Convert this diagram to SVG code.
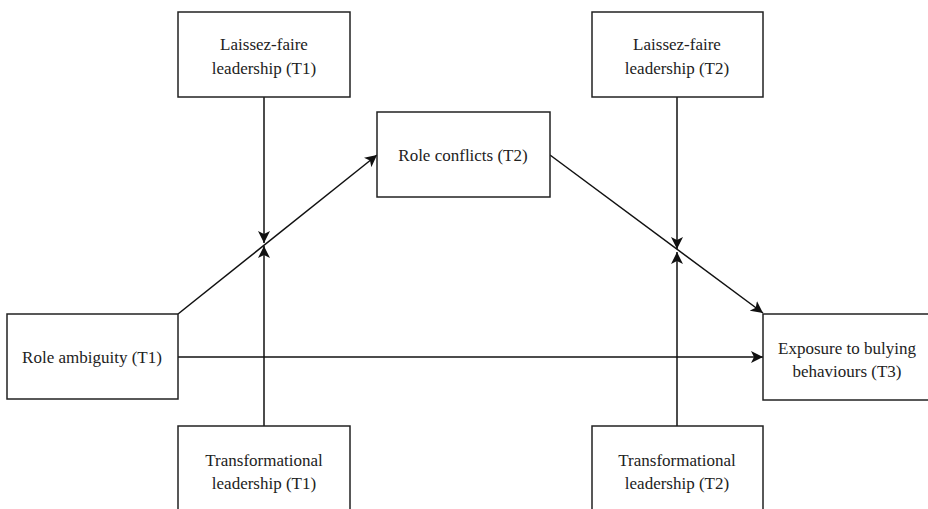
<svg xmlns="http://www.w3.org/2000/svg" width="928" height="509" viewBox="0 0 928 509">
<style>
.box{fill:#fff;stroke:#222;stroke-width:1.5}
.t{font-family:'Liberation Serif','Times New Roman',serif;font-size:17px;fill:#222;text-anchor:middle}
.c{fill:none;stroke:#111;stroke-width:1.5}
</style>
<defs>
<marker id="ah" markerUnits="userSpaceOnUse" markerWidth="14" markerHeight="12" viewBox="0 0 14 12" refX="12" refY="6" orient="auto">
<path d="M0,0 L12,6 L0,12 L3,6 z" fill="#111"/>
</marker>
</defs>
<rect width="928" height="509" fill="#fff"/>
<g id="connectors">
<line class="c" x1="264" y1="97" x2="264" y2="243" marker-end="url(#ah)"/>
<line class="c" x1="264" y1="426" x2="264" y2="246" marker-end="url(#ah)"/>
<line class="c" x1="677" y1="97" x2="677" y2="249" marker-end="url(#ah)"/>
<line class="c" x1="677" y1="426" x2="677" y2="252" marker-end="url(#ah)"/>
<line class="c" x1="178" y1="314" x2="377" y2="155" marker-end="url(#ah)"/>
<line class="c" x1="550" y1="155" x2="763" y2="313" marker-end="url(#ah)"/>
<line class="c" x1="178" y1="357" x2="763" y2="357" marker-end="url(#ah)"/>
</g>
<g id="laissez1">
<rect class="box" x="178" y="12" width="172" height="85"/>
<text class="t" x="264" y="50">Laissez-faire</text>
<text class="t" x="264" y="74">leadership (T1)</text>
</g>
<g id="laissez2">
<rect class="box" x="592" y="12" width="171" height="85"/>
<text class="t" x="677" y="50">Laissez-faire</text>
<text class="t" x="677" y="74">leadership (T2)</text>
</g>
<g id="roleconflicts">
<rect class="box" x="377" y="112" width="173" height="85"/>
<text class="t" x="463" y="161">Role conflicts (T2)</text>
</g>
<g id="roleambiguity">
<rect class="box" x="7" y="314" width="171" height="85"/>
<text class="t" x="92" y="363">Role ambiguity (T1)</text>
</g>
<g id="exposure">
<rect class="box" x="763" y="314" width="168" height="86"/>
<text class="t" x="847" y="354">Exposure to bulying</text>
<text class="t" x="847" y="377">behaviours (T3)</text>
</g>
<g id="transform1">
<rect class="box" x="178" y="426" width="172" height="100"/>
<text class="t" x="264" y="466">Transformational</text>
<text class="t" x="264" y="489">leadership (T1)</text>
</g>
<g id="transform2">
<rect class="box" x="592" y="426" width="171" height="100"/>
<text class="t" x="677" y="466">Transformational</text>
<text class="t" x="677" y="489">leadership (T2)</text>
</g>
</svg>
